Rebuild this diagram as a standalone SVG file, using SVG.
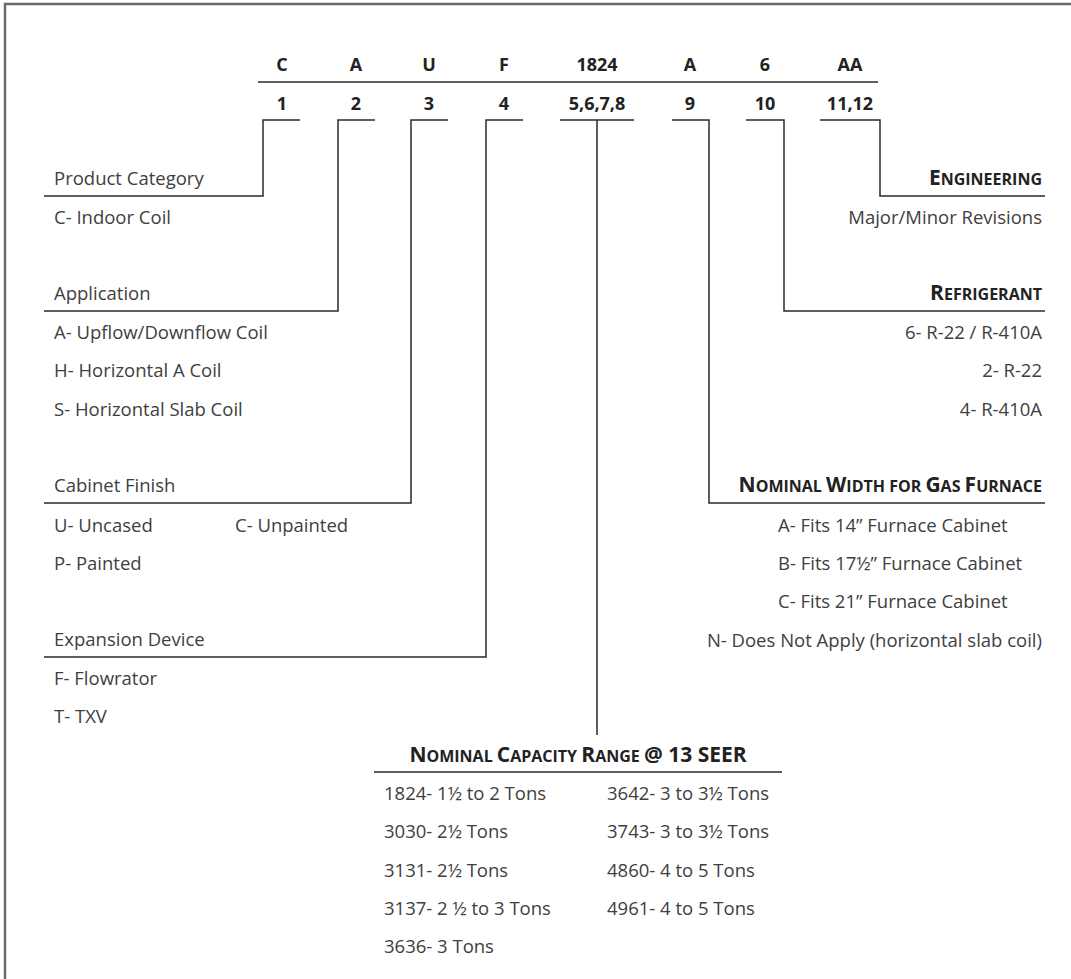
<svg xmlns="http://www.w3.org/2000/svg" width="1071" height="979" viewBox="0 0 1071 979">
<style>
.frame{fill:none;stroke:#6a6a6a;stroke-width:2.5}
.ln{fill:none;stroke:#2a2a2a;stroke-width:1.5}
.hd{font-family:"Open Sans","Liberation Sans",sans-serif;font-weight:700;font-size:18px;fill:#222;text-anchor:middle}
.tx{font-family:"Open Sans","Liberation Sans",sans-serif;font-size:18.5px;fill:#404040}
.r{text-anchor:end}
.sc{font-family:"Open Sans","Liberation Sans",sans-serif;font-weight:700;font-size:16px;fill:#222}
.big{font-size:21px}
</style>
<rect width="1071" height="979" fill="#fff"/>
<path class="frame" d="M5,979 V4 H1071"/>
<g id="header">
<text class="hd" x="282" y="71">C</text>
<text class="hd" x="356" y="71">A</text>
<text class="hd" x="429" y="71">U</text>
<text class="hd" x="504" y="71">F</text>
<text class="hd" x="597" y="71">1824</text>
<text class="hd" x="690" y="71">A</text>
<text class="hd" x="765" y="71">6</text>
<text class="hd" x="850" y="71">AA</text>
<text class="hd" x="282" y="110">1</text>
<text class="hd" x="356" y="110">2</text>
<text class="hd" x="429" y="110">3</text>
<text class="hd" x="504" y="110">4</text>
<text class="hd" x="597" y="110">5,6,7,8</text>
<text class="hd" x="690" y="110">9</text>
<text class="hd" x="765" y="110">10</text>
<text class="hd" x="850" y="110">11,12</text>
</g>
<g id="connectors">
<path class="ln" d="M258,82 H878"/>
<path class="ln" d="M300,120 H263 V196 H44"/>
<path class="ln" d="M375,120 H338 V311 H44"/>
<path class="ln" d="M448,120 H411 V503 H44"/>
<path class="ln" d="M523,120 H486 V657 H44"/>
<path class="ln" d="M560,120 H634 M597,120 V735"/>
<path class="ln" d="M672,120 H709 V503 H1045"/>
<path class="ln" d="M746,120 H784 V311 H1045"/>
<path class="ln" d="M820,120 H880 V196 H1045"/>
<path class="ln" d="M374,772 H782"/>
</g>
<g id="product-category">
<text class="tx" x="54" y="185">Product Category</text>
<text class="tx" x="54" y="224">C- Indoor Coil</text>
</g>
<g id="application">
<text class="tx" x="54" y="300">Application</text>
<text class="tx" x="54" y="339">A- Upflow/Downflow Coil</text>
<text class="tx" x="54" y="377">H- Horizontal A Coil</text>
<text class="tx" x="54" y="416">S- Horizontal Slab Coil</text>
</g>
<g id="cabinet-finish">
<text class="tx" x="54" y="492">Cabinet Finish</text>
<text class="tx" x="54" y="532">U- Uncased</text>
<text class="tx" x="235" y="532">C- Unpainted</text>
<text class="tx" x="54" y="570">P- Painted</text>
</g>
<g id="expansion-device">
<text class="tx" x="54" y="646">Expansion Device</text>
<text class="tx" x="54" y="685">F- Flowrator</text>
<text class="tx" x="54" y="723">T- TXV</text>
</g>
<g id="engineering">
<text class="sc r" x="1042" y="185"><tspan class="big">E</tspan>NGINEERING</text>
<text class="tx r" x="1042" y="224">Major/Minor Revisions</text>
</g>
<g id="refrigerant">
<text class="sc r" x="1042" y="300"><tspan class="big">R</tspan>EFRIGERANT</text>
<text class="tx r" x="1042" y="339">6- R-22 / R-410A</text>
<text class="tx r" x="1042" y="377">2- R-22</text>
<text class="tx r" x="1042" y="416">4- R-410A</text>
</g>
<g id="nominal-width">
<text class="sc r" x="1042" y="492"><tspan class="big">N</tspan>OMINAL <tspan class="big">W</tspan>IDTH FOR <tspan class="big">G</tspan>AS <tspan class="big">F</tspan>URNACE</text>
<text class="tx" x="778" y="532">A- Fits 14” Furnace Cabinet</text>
<text class="tx" x="778" y="570">B- Fits 17½” Furnace Cabinet</text>
<text class="tx" x="778" y="608">C- Fits 21” Furnace Cabinet</text>
<text class="tx r" x="1042" y="647">N- Does Not Apply (horizontal slab coil)</text>
</g>
<g id="nominal-capacity">
<text class="sc" x="578" y="762" text-anchor="middle"><tspan class="big">N</tspan>OMINAL <tspan class="big">C</tspan>APACITY <tspan class="big">R</tspan>ANGE <tspan class="big">@ 13 SEER</tspan></text>
<text class="tx" x="384" y="800">1824- 1½ to 2 Tons</text>
<text class="tx" x="384" y="838">3030- 2½ Tons</text>
<text class="tx" x="384" y="877">3131- 2½ Tons</text>
<text class="tx" x="384" y="915">3137- 2 ½ to 3 Tons</text>
<text class="tx" x="384" y="953">3636- 3 Tons</text>
<text class="tx" x="607" y="800">3642- 3 to 3½ Tons</text>
<text class="tx" x="607" y="838">3743- 3 to 3½ Tons</text>
<text class="tx" x="607" y="877">4860- 4 to 5 Tons</text>
<text class="tx" x="607" y="915">4961- 4 to 5 Tons</text>
</g>
</svg>
